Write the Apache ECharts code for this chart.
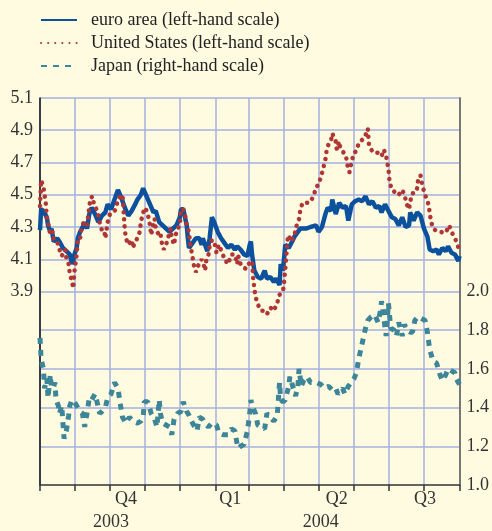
<!DOCTYPE html>
<html>
<head>
<meta charset="utf-8">
<script src="https://cdn.jsdelivr.net/npm/echarts@6/dist/echarts.min.js"></script>
<style>
  html, body { margin: 0; padding: 0; background: #fffbe1; }
  #chart { width: 492px; height: 531px; }
</style>
</head>
<body>
<div id="chart"></div>
<script>
// 10-year government bond yields, daily readings (date, percent)
const euroArea = [
  ['2003-09-01', 4.28], ['2003-09-02', 4.41], ['2003-09-04', 4.40], ['2003-09-07', 4.36], ['2003-09-08', 4.31],
  ['2003-09-10', 4.27], ['2003-09-11', 4.29], ['2003-09-13', 4.21], ['2003-09-16', 4.23], ['2003-09-18', 4.21],
  ['2003-09-21', 4.17], ['2003-09-24', 4.15], ['2003-09-27', 4.13], ['2003-09-29', 4.07], ['2003-09-30', 4.09],
  ['2003-10-01', 4.13], ['2003-10-03', 4.17], ['2003-10-04', 4.23], ['2003-10-06', 4.27], ['2003-10-09', 4.31],
  ['2003-10-10', 4.33], ['2003-10-12', 4.29], ['2003-10-14', 4.38], ['2003-10-16', 4.42], ['2003-10-19', 4.38],
  ['2003-10-22', 4.33], ['2003-10-25', 4.37], ['2003-10-28', 4.39], ['2003-10-30', 4.44], ['2003-11-02', 4.41],
  ['2003-11-05', 4.47], ['2003-11-08', 4.53], ['2003-11-11', 4.48], ['2003-11-14', 4.42], ['2003-11-17', 4.37],
  ['2003-11-20', 4.40], ['2003-11-23', 4.44], ['2003-11-25', 4.47], ['2003-11-28', 4.50], ['2003-11-30', 4.54],
  ['2003-12-03', 4.49], ['2003-12-06', 4.44], ['2003-12-09', 4.39], ['2003-12-11', 4.40], ['2003-12-14', 4.33],
  ['2003-12-17', 4.31], ['2003-12-20', 4.29], ['2003-12-23', 4.27], ['2003-12-26', 4.29], ['2003-12-29', 4.31],
  ['2004-01-01', 4.36], ['2004-01-02', 4.41], ['2004-01-04', 4.41], ['2004-01-07', 4.31], ['2004-01-08', 4.23],
  ['2004-01-09', 4.17], ['2004-01-12', 4.20], ['2004-01-15', 4.23], ['2004-01-18', 4.23], ['2004-01-20', 4.19],
  ['2004-01-21', 4.23], ['2004-01-24', 4.17], ['2004-01-25', 4.15], ['2004-01-27', 4.23], ['2004-01-29', 4.36],
  ['2004-01-31', 4.33], ['2004-02-03', 4.27], ['2004-02-06', 4.23], ['2004-02-09', 4.20], ['2004-02-12', 4.17],
  ['2004-02-15', 4.19], ['2004-02-18', 4.16], ['2004-02-20', 4.18], ['2004-02-23', 4.16], ['2004-02-26', 4.13],
  ['2004-02-29', 4.12], ['2004-03-02', 4.19], ['2004-03-03', 4.21], ['2004-03-04', 4.13], ['2004-03-06', 4.03],
  ['2004-03-09', 3.99], ['2004-03-12', 3.98], ['2004-03-15', 4.03], ['2004-03-17', 3.98], ['2004-03-20', 3.99],
  ['2004-03-23', 3.96], ['2004-03-25', 3.98], ['2004-03-28', 3.94], ['2004-03-29', 4.07], ['2004-03-31', 4.03],
  ['2004-04-02', 4.19], ['2004-04-05', 4.17], ['2004-04-08', 4.21], ['2004-04-10', 4.24], ['2004-04-13', 4.27],
  ['2004-04-15', 4.29], ['2004-04-20', 4.29], ['2004-04-24', 4.30], ['2004-04-29', 4.31], ['2004-05-01', 4.27],
  ['2004-05-04', 4.30], ['2004-05-07', 4.38], ['2004-05-09', 4.42], ['2004-05-12', 4.40], ['2004-05-13', 4.47],
  ['2004-05-16', 4.38], ['2004-05-19', 4.45], ['2004-05-22', 4.42], ['2004-05-25', 4.43], ['2004-05-27', 4.34],
  ['2004-05-30', 4.44], ['2004-06-02', 4.46], ['2004-06-05', 4.47], ['2004-06-08', 4.46], ['2004-06-11', 4.49],
  ['2004-06-14', 4.44], ['2004-06-17', 4.46], ['2004-06-20', 4.42], ['2004-06-23', 4.43], ['2004-06-25', 4.39],
  ['2004-06-28', 4.44], ['2004-07-01', 4.40], ['2004-07-04', 4.36], ['2004-07-07', 4.35], ['2004-07-10', 4.31],
  ['2004-07-13', 4.36], ['2004-07-16', 4.30], ['2004-07-19', 4.31], ['2004-07-20', 4.39], ['2004-07-23', 4.34],
  ['2004-07-26', 4.39], ['2004-07-29', 4.37], ['2004-08-01', 4.29], ['2004-08-04', 4.24], ['2004-08-06', 4.16],
  ['2004-08-09', 4.15], ['2004-08-12', 4.16], ['2004-08-14', 4.13], ['2004-08-17', 4.17], ['2004-08-20', 4.15],
  ['2004-08-22', 4.18], ['2004-08-25', 4.14], ['2004-08-28', 4.13], ['2004-08-31', 4.09], ['2004-09-01', 4.12]
];

const unitedStates = [
  ['2003-09-01', 4.43], ['2003-09-02', 4.59], ['2003-09-04', 4.55], ['2003-09-05', 4.50], ['2003-09-06', 4.45],
  ['2003-09-07', 4.35], ['2003-09-09', 4.30], ['2003-09-10', 4.25], ['2003-09-12', 4.27], ['2003-09-13', 4.22],
  ['2003-09-16', 4.21], ['2003-09-18', 4.16], ['2003-09-20', 4.12], ['2003-09-23', 4.16], ['2003-09-24', 4.11],
  ['2003-09-26', 4.07], ['2003-09-27', 4.01], ['2003-09-29', 3.96], ['2003-09-30', 3.92], ['2003-10-01', 4.02],
  ['2003-10-03', 4.13], ['2003-10-04', 4.23], ['2003-10-06', 4.23], ['2003-10-07', 4.28], ['2003-10-09', 4.33],
  ['2003-10-12', 4.31], ['2003-10-13', 4.37], ['2003-10-14', 4.42], ['2003-10-15', 4.48], ['2003-10-17', 4.49],
  ['2003-10-18', 4.44], ['2003-10-21', 4.40], ['2003-10-23', 4.33], ['2003-10-25', 4.28], ['2003-10-27', 4.28],
  ['2003-10-28', 4.23], ['2003-10-29', 4.28], ['2003-10-30', 4.33], ['2003-11-01', 4.38], ['2003-11-04', 4.39],
  ['2003-11-06', 4.41], ['2003-11-08', 4.47], ['2003-11-10', 4.49], ['2003-11-12', 4.50], ['2003-11-13', 4.39],
  ['2003-11-14', 4.28], ['2003-11-15', 4.23], ['2003-11-17', 4.19], ['2003-11-20', 4.22], ['2003-11-21', 4.17],
  ['2003-11-23', 4.21], ['2003-11-25', 4.23], ['2003-11-27', 4.27], ['2003-11-28', 4.33], ['2003-11-30', 4.39],
  ['2003-12-02', 4.42], ['2003-12-04', 4.38], ['2003-12-06', 4.31], ['2003-12-07', 4.25], ['2003-12-09', 4.32],
  ['2003-12-10', 4.35], ['2003-12-11', 4.29], ['2003-12-13', 4.26], ['2003-12-15', 4.27], ['2003-12-16', 4.21],
  ['2003-12-18', 4.16], ['2003-12-20', 4.19], ['2003-12-22', 4.24], ['2003-12-24', 4.29], ['2003-12-25', 4.23],
  ['2003-12-27', 4.19], ['2003-12-28', 4.24], ['2003-12-30', 4.29], ['2004-01-01', 4.31], ['2004-01-02', 4.41],
  ['2004-01-04', 4.41], ['2004-01-06', 4.36], ['2004-01-07', 4.31], ['2004-01-09', 4.27], ['2004-01-10', 4.19],
  ['2004-01-12', 4.12], ['2004-01-13', 4.07], ['2004-01-15', 4.02], ['2004-01-17', 4.06], ['2004-01-20', 4.10],
  ['2004-01-22', 4.06], ['2004-01-23', 4.03], ['2004-01-24', 4.09], ['2004-01-26', 4.13], ['2004-01-27', 4.18],
  ['2004-01-29', 4.22], ['2004-01-31', 4.21], ['2004-02-02', 4.14], ['2004-02-04', 4.19], ['2004-02-07', 4.14],
  ['2004-02-08', 4.12], ['2004-02-10', 4.11], ['2004-02-11', 4.07], ['2004-02-13', 4.09], ['2004-02-15', 4.13],
  ['2004-02-18', 4.13], ['2004-02-20', 4.07], ['2004-02-21', 4.12], ['2004-02-23', 4.07], ['2004-02-25', 4.05],
  ['2004-02-28', 4.04], ['2004-03-01', 4.07], ['2004-03-04', 4.09], ['2004-03-05', 3.98], ['2004-03-06', 3.92],
  ['2004-03-07', 3.87], ['2004-03-09', 3.82], ['2004-03-12', 3.78], ['2004-03-15', 3.78], ['2004-03-17', 3.76],
  ['2004-03-20', 3.80], ['2004-03-23', 3.78], ['2004-03-26', 3.83], ['2004-03-28', 3.88], ['2004-03-31', 3.90],
  ['2004-04-01', 3.96], ['2004-04-02', 4.04], ['2004-04-03', 4.13], ['2004-04-04', 4.22], ['2004-04-05', 4.25],
  ['2004-04-07', 4.21], ['2004-04-10', 4.24], ['2004-04-11', 4.29], ['2004-04-14', 4.35], ['2004-04-15', 4.40],
  ['2004-04-17', 4.45], ['2004-04-20', 4.45], ['2004-04-23', 4.45], ['2004-04-25', 4.47], ['2004-04-27', 4.50],
  ['2004-04-29', 4.55], ['2004-05-01', 4.56], ['2004-05-03', 4.61], ['2004-05-05', 4.66], ['2004-05-07', 4.72],
  ['2004-05-08', 4.77], ['2004-05-10', 4.82], ['2004-05-12', 4.84], ['2004-05-13', 4.88], ['2004-05-14', 4.88],
  ['2004-05-16', 4.83], ['2004-05-17', 4.78], ['2004-05-19', 4.83], ['2004-05-20', 4.79], ['2004-05-22', 4.77],
  ['2004-05-25', 4.74], ['2004-05-26', 4.69], ['2004-05-28', 4.64], ['2004-05-30', 4.71], ['2004-06-01', 4.76],
  ['2004-06-03', 4.77], ['2004-06-05', 4.82], ['2004-06-08', 4.84], ['2004-06-10', 4.85], ['2004-06-12', 4.89],
  ['2004-06-13', 4.91], ['2004-06-14', 4.81], ['2004-06-16', 4.78], ['2004-06-18', 4.76], ['2004-06-20', 4.76],
  ['2004-06-23', 4.76], ['2004-06-25', 4.74], ['2004-06-27', 4.78], ['2004-06-29', 4.74], ['2004-07-01', 4.66],
  ['2004-07-02', 4.58], ['2004-07-04', 4.53], ['2004-07-06', 4.52], ['2004-07-08', 4.50], ['2004-07-10', 4.50],
  ['2004-07-13', 4.53], ['2004-07-15', 4.50], ['2004-07-17', 4.44], ['2004-07-19', 4.41], ['2004-07-20', 4.46],
  ['2004-07-22', 4.51], ['2004-07-24', 4.51], ['2004-07-26', 4.54], ['2004-07-27', 4.60], ['2004-07-29', 4.62],
  ['2004-07-30', 4.58], ['2004-08-01', 4.52], ['2004-08-03', 4.48], ['2004-08-05', 4.44], ['2004-08-06', 4.39],
  ['2004-08-07', 4.34], ['2004-08-09', 4.29], ['2004-08-11', 4.28], ['2004-08-14', 4.27], ['2004-08-16', 4.27],
  ['2004-08-18', 4.26], ['2004-08-21', 4.28], ['2004-08-23', 4.31], ['2004-08-25', 4.27], ['2004-08-28', 4.23],
  ['2004-08-30', 4.20], ['2004-08-31', 4.17]
];

const japan = [
  ['2003-09-01', 1.76], ['2003-09-02', 1.65], ['2003-09-04', 1.60], ['2003-09-05', 1.50], ['2003-09-07', 1.55],
  ['2003-09-08', 1.45], ['2003-09-10', 1.57], ['2003-09-11', 1.50], ['2003-09-13', 1.51], ['2003-09-14', 1.53],
  ['2003-09-15', 1.44], ['2003-09-17', 1.41], ['2003-09-18', 1.37], ['2003-09-20', 1.41], ['2003-09-21', 1.32],
  ['2003-09-22', 1.24], ['2003-09-24', 1.28], ['2003-09-26', 1.36], ['2003-09-27', 1.41], ['2003-09-29', 1.44],
  ['2003-09-30', 1.43], ['2003-10-02', 1.42], ['2003-10-06', 1.38], ['2003-10-08', 1.37], ['2003-10-10', 1.30],
  ['2003-10-12', 1.37], ['2003-10-14', 1.45], ['2003-10-16', 1.44], ['2003-10-19', 1.47], ['2003-10-20', 1.45],
  ['2003-10-23', 1.37], ['2003-10-25', 1.38], ['2003-10-28', 1.40], ['2003-10-30', 1.45], ['2003-11-02', 1.47],
  ['2003-11-05', 1.53], ['2003-11-08', 1.50], ['2003-11-10', 1.42], ['2003-11-12', 1.35], ['2003-11-15', 1.32],
  ['2003-11-18', 1.35], ['2003-11-21', 1.33], ['2003-11-25', 1.32], ['2003-11-28', 1.33], ['2003-11-30', 1.35],
  ['2003-12-01', 1.43], ['2003-12-04', 1.43], ['2003-12-07', 1.37], ['2003-12-10', 1.34], ['2003-12-12', 1.30],
  ['2003-12-14', 1.44], ['2003-12-15', 1.37], ['2003-12-17', 1.32], ['2003-12-20', 1.31], ['2003-12-23', 1.30],
  ['2003-12-25', 1.26], ['2003-12-27', 1.34], ['2003-12-30', 1.37], ['2004-01-02', 1.38], ['2004-01-04', 1.43],
  ['2004-01-07', 1.38], ['2004-01-09', 1.36], ['2004-01-12', 1.32], ['2004-01-16', 1.28], ['2004-01-18', 1.35],
  ['2004-01-21', 1.34], ['2004-01-24', 1.31], ['2004-01-26', 1.30], ['2004-01-29', 1.32], ['2004-02-02', 1.31],
  ['2004-02-04', 1.27], ['2004-02-08', 1.26], ['2004-02-12', 1.26], ['2004-02-15', 1.29], ['2004-02-18', 1.28],
  ['2004-02-20', 1.21], ['2004-02-21', 1.19], ['2004-02-23', 1.20], ['2004-02-26', 1.21], ['2004-02-29', 1.28],
  ['2004-03-02', 1.37], ['2004-03-03', 1.44], ['2004-03-04', 1.41], ['2004-03-07', 1.37], ['2004-03-09', 1.31],
  ['2004-03-12', 1.30], ['2004-03-15', 1.29], ['2004-03-17', 1.37], ['2004-03-20', 1.35], ['2004-03-23', 1.33],
  ['2004-03-26', 1.36], ['2004-03-28', 1.53], ['2004-03-29', 1.44], ['2004-03-31', 1.43], ['2004-04-02', 1.44],
  ['2004-04-05', 1.51], ['2004-04-06', 1.56], ['2004-04-09', 1.50], ['2004-04-11', 1.46], ['2004-04-13', 1.51],
  ['2004-04-14', 1.60], ['2004-04-16', 1.51], ['2004-04-18', 1.54], ['2004-04-21', 1.56], ['2004-04-24', 1.53],
  ['2004-04-29', 1.53], ['2004-05-03', 1.52], ['2004-05-06', 1.50], ['2004-05-10', 1.51], ['2004-05-13', 1.49],
  ['2004-05-16', 1.50], ['2004-05-18', 1.47], ['2004-05-22', 1.50], ['2004-05-24', 1.47], ['2004-05-27', 1.51],
  ['2004-06-01', 1.55], ['2004-06-03', 1.58], ['2004-06-05', 1.65], ['2004-06-08', 1.73], ['2004-06-11', 1.81],
  ['2004-06-13', 1.85], ['2004-06-16', 1.87], ['2004-06-19', 1.88], ['2004-06-22', 1.84], ['2004-06-24', 1.90],
  ['2004-06-25', 1.95], ['2004-06-27', 1.86], ['2004-06-29', 1.77], ['2004-07-01', 1.94], ['2004-07-03', 1.81],
  ['2004-07-06', 1.80], ['2004-07-08', 1.77], ['2004-07-10', 1.84], ['2004-07-13', 1.77], ['2004-07-15', 1.83],
  ['2004-07-17', 1.80], ['2004-07-20', 1.79], ['2004-07-22', 1.79], ['2004-07-24', 1.85], ['2004-07-27', 1.87],
  ['2004-07-30', 1.86], ['2004-08-02', 1.85], ['2004-08-04', 1.79], ['2004-08-06', 1.70], ['2004-08-09', 1.64],
  ['2004-08-12', 1.63], ['2004-08-15', 1.57], ['2004-08-17', 1.54], ['2004-08-20', 1.57], ['2004-08-22', 1.60],
  ['2004-08-25', 1.59], ['2004-08-28', 1.58], ['2004-08-29', 1.55], ['2004-09-01', 1.52]
];

// axis ticks and labels
const monthTicks = [
  '2003-09-01', '2003-10-01', '2003-11-01', '2003-12-01', '2004-01-01', '2004-02-01', '2004-03-01',
  '2004-04-01', '2004-05-01', '2004-06-01', '2004-07-01', '2004-08-01', '2004-09-01'
];
const quarterLabels = ['Q4', 'Q1', 'Q2', 'Q3'];
const quarterLabelDates = ['2003-11-15', '2004-02-14', '2004-05-17', '2004-08-02'];
const yearLabels = ['2003', '2004'];
const yearLabelDates = ['2003-11-02', '2004-05-03'];

const seriesNames = ['euro area (left-hand scale)', 'United States (left-hand scale)', 'Japan (right-hand scale)'];

// dates -> UTC ms, so the x axis can be a plain value axis with custom ticks
const toTime = (s) => Date.parse(s + 'T00:00:00Z');
const toPoints = (rows) => rows.map(([d, v]) => [toTime(d), v]);

const gridColor = '#a6b0e0';
const serif = 'Liberation Serif';
const labelSize = 18;

const chart = echarts.init(document.getElementById('chart'));

const monthTickTimes = monthTicks.map(toTime);
const quarterTimes = quarterLabelDates.map(toTime);
const yearTimes = yearLabelDates.map(toTime);
const xMin = monthTickTimes[0];
const xMax = monthTickTimes[monthTickTimes.length - 1];

// left scale only draws grid lines from 3.9 up, right scale only 1.2 - 1.8
const leftLineColors = ['transparent', 'transparent', 'transparent', 'transparent', 'transparent', 'transparent',
  gridColor, gridColor, gridColor, gridColor, gridColor, gridColor, gridColor];
const rightLineColors = ['transparent', gridColor, gridColor, gridColor, gridColor,
  'transparent', 'transparent', 'transparent', 'transparent', 'transparent', 'transparent'];

const option = {
  backgroundColor: '#fffbe1',
  animation: false,
  legend: {
    orient: 'vertical',
    left: 35,
    top: 6,
    itemWidth: 36,
    itemHeight: 12,
    itemGap: 5,
    itemStyle: { color: 'transparent', borderColor: 'transparent', borderWidth: 0 },
    textStyle: { fontFamily: serif, fontSize: 18, color: '#222', padding: [0, 0, 0, 9] },
    data: seriesNames
  },
  grid: { left: 40, right: 31, top: 98, bottom: 46 },
  xAxis: [
    {
      type: 'value',
      min: xMin,
      max: xMax,
      axisLine: { show: true, lineStyle: { color: '#333', width: 1.5 } },
      axisTick: { show: true, length: 6, customValues: monthTickTimes, lineStyle: { color: '#333', width: 1.5 } },
      splitLine: { show: true, lineStyle: { color: gridColor, width: 1.5 } },
      axisLabel: {
        customValues: quarterTimes,
        margin: 5,
        fontFamily: serif,
        fontSize: labelSize,
        color: '#333',
        formatter: (v) => {
          const i = quarterTimes.indexOf(v);
          return i >= 0 ? quarterLabels[i] : '';
        }
      }
    },
    {
      type: 'value',
      position: 'bottom',
      min: xMin,
      max: xMax,
      axisLine: { show: false },
      axisTick: { show: false },
      splitLine: { show: false },
      axisLabel: {
        customValues: yearTimes,
        margin: 28,
        fontFamily: serif,
        fontSize: labelSize,
        color: '#333',
        formatter: (v) => {
          const i = yearTimes.indexOf(v);
          return i >= 0 ? yearLabels[i] : '';
        }
      }
    }
  ],
  yAxis: [
    {
      type: 'value',
      position: 'left',
      min: 2.7,
      max: 5.1,
      interval: 0.2,
      axisLine: { show: true, lineStyle: { color: '#111', width: 1.5 } },
      axisTick: { show: false },
      splitLine: { show: true, lineStyle: { color: leftLineColors, width: 1.5 } },
      axisLabel: {
        margin: 7,
        fontFamily: serif,
        fontSize: labelSize,
        color: '#333',
        formatter: (v) => (v > 3.85 ? v.toFixed(1) : '')
      }
    },
    {
      type: 'value',
      position: 'right',
      min: 1.0,
      max: 3.0,
      interval: 0.2,
      axisLine: { show: true, lineStyle: { color: '#777', width: 2 } },
      axisTick: { show: false },
      splitLine: { show: true, lineStyle: { color: rightLineColors, width: 1.5 } },
      axisLabel: {
        margin: 7,
        fontFamily: serif,
        fontSize: labelSize,
        color: '#333',
        formatter: (v) => (v < 2.05 ? v.toFixed(1) : '')
      }
    }
  ],
  series: [
    {
      name: seriesNames[2],
      type: 'line',
      yAxisIndex: 1,
      symbol: 'none',
      data: toPoints(japan),
      lineStyle: { color: '#3d8599', width: 5, type: [6, 6] },
      itemStyle: { color: '#3d8599' },
      z: 3
    },
    {
      name: seriesNames[1],
      type: 'line',
      yAxisIndex: 0,
      symbol: 'none',
      data: toPoints(unitedStates),
      lineStyle: { color: '#b03535', width: 4.5, type: [0.1, 7], cap: 'round' },
      itemStyle: { color: '#b03535' },
      z: 4
    },
    {
      name: seriesNames[0],
      type: 'line',
      yAxisIndex: 0,
      symbol: 'none',
      data: toPoints(euroArea),
      lineStyle: { color: '#0b519d', width: 4.5 },
      itemStyle: { color: '#0b519d' },
      z: 3
    }
  ]
};

chart.setOption(option);
</script>
</body>
</html>
